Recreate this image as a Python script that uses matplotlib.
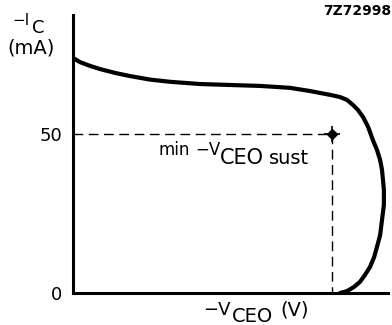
import numpy as np
import matplotlib
matplotlib.use('Agg')
import matplotlib.pyplot as plt

plt.rcParams['font.family'] = ['DejaVu Sans']

# curve: -V_CEO (arbitrary units, axis 0..100) vs -I_C (mA)
vce = [0, 2.2, 5.4, 8.6, 13.3, 18.1, 24.4, 30.8, 40.3, 49.8, 59.4, 68.9,
       75.2, 78.4, 81.6, 84.8, 87.0, 88.9, 90.5, 92.1, 93.7, 95.2, 96.5,
       97.5, 98.1, 98.4, 98.7, 98.7, 98.1, 97.5, 96.5, 95.6, 94.3, 92.7,
       91.1, 89.2, 87.0, 84.8]
ic = [73.9, 72.6, 71.4, 70.4, 69.2, 68.2, 67.1, 66.4, 65.7, 65.4, 65.1, 64.5,
      63.5, 62.9, 62.3, 61.6, 60.7, 59.1, 57.5, 55.3, 52.2, 48.1, 45.0,
      41.8, 38.7, 35.5, 32.4, 27.7, 23.0, 18.2, 14.5, 11.3, 8.2, 5.7,
      3.5, 1.9, 0.6, 0.0]
sust_v = 82.2
sust_i = 50
yticks = [0, 50]
ytick_labels = ['0', '50']

W, H = 392, 325
fig = plt.figure(figsize=(W / 100, H / 100), dpi=100)
ax = fig.add_axes([73 / W, 1 - 293 / H, 315 / W, 278 / H])

ax.plot(vce, ic, color='black', lw=3.0, solid_capstyle='round',
        solid_joinstyle='round')
ax.plot([0, sust_v], [sust_i, sust_i], color='black', lw=1.0,
        dashes=(7, 4))
ax.plot([sust_v, sust_v], [sust_i, 0], color='black', lw=1.0,
        dashes=(7, 4))
ax.plot([sust_v], [sust_i], marker='D', ms=5, color='black')
ax.plot([sust_v], [sust_i], marker='+', ms=11, mew=1.2, color='black')

ax.set_xlim(0, 100)
ax.set_ylim(0, 87.4)
ax.spines['right'].set_color('none')
ax.spines['top'].set_color('none')
ax.spines['left'].set_linewidth(2.2)
ax.spines['bottom'].set_linewidth(2.2)
ax.set_xticks([])
ax.set_yticks(yticks)
ax.set_yticklabels(ytick_labels, fontsize=13)
ax.tick_params(axis='y', length=0, pad=8)


def ftext(x, y, s, size, **kw):
    fig.text(x / W, 1 - y / H, s, fontsize=size, va='baseline', ha='left', **kw)


# y axis label
ftext(12, 25, '\u2212I', 11)
ftext(32, 33, 'C', 13)
ftext(7, 53, '(mA)', 14)

# figure code
fig.text(391 / W, 1 - 15 / H, '7Z72998', fontsize=10, fontweight='bold',
         ha='right', va='baseline')

# annotation
ftext(159, 155, 'min', 12)
ftext(195, 155, '\u2212V', 12)
ftext(220, 164, 'CEO', 15)
ftext(269, 164, 'sust', 14)

# x axis label
ftext(203, 315, '\u2212V', 13)
ftext(232, 322, 'CEO', 14)
ftext(280, 315, '(V)', 14)

fig.savefig('out.png', dpi=100)
